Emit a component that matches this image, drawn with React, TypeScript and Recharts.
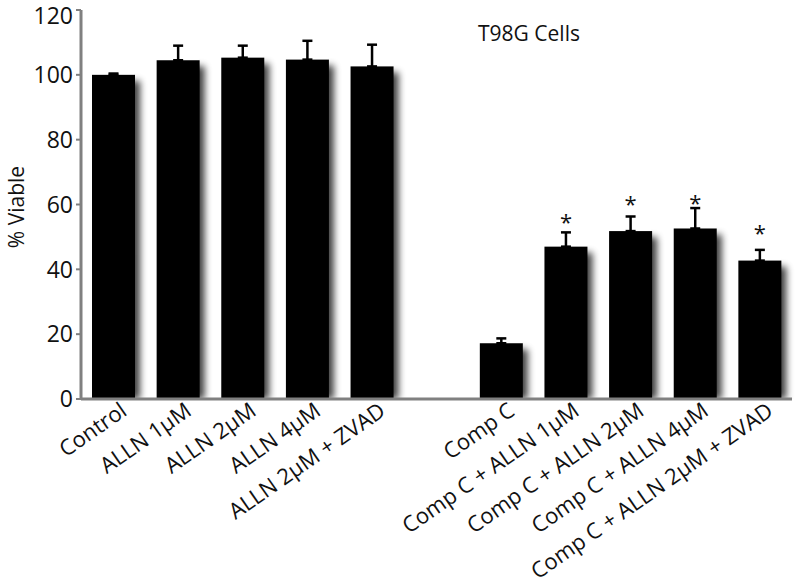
import { Bar, BarChart, ErrorBar, LabelList, XAxis, YAxis } from 'recharts';

const categories = [
  'Control',
  'ALLN 1µM',
  'ALLN 2µM',
  'ALLN 4µM',
  'ALLN 2µM + ZVAD',
  '',
  'Comp C',
  'Comp C + ALLN 1µM',
  'Comp C + ALLN 2µM',
  'Comp C + ALLN 4µM',
  'Comp C + ALLN 2µM + ZVAD',
];
const means = [100, 104.5, 105.3, 104.7, 102.6, null, 17.2, 47, 51.8, 52.6, 42.7];
const errors = [0.4, 4.5, 3.7, 5.8, 6.7, null, 1.5, 4.4, 4.5, 6.3, 3.3];
const significant = [false, false, false, false, false, false, false, true, true, true, true];
const yTicks = [0, 20, 40, 60, 80, 100, 120];

const FONT = '"Open Sans", "DejaVu Sans", sans-serif';
const AXIS_GREY = '#808080';

const rows = categories.map((name, i) => ({
  name,
  mean: means[i],
  err: errors[i] === null ? null : [0, errors[i]],
  star: significant[i] ? '*' : '',
}));

function ShadowBar(props: any) {
  const { x, y, width, height, index } = props;
  if (!height || height <= 0) return null;
  const fid = `shadow-blur-${index}`;
  const cid = `shadow-clip-${index}`;
  return (
    <g>
      <defs>
        <filter id={fid} x="-50%" y="-50%" width="200%" height="200%">
          <feGaussianBlur stdDeviation="3.5" />
        </filter>
        <clipPath id={cid}>
          <rect x={x + width - 1} y={y - 20} width={30} height={height + 20} />
        </clipPath>
      </defs>
      <rect
        x={x + 5}
        y={y + 6}
        width={width}
        height={height - 6}
        fill="#000"
        opacity={0.75}
        filter={`url(#${fid})`}
        clipPath={`url(#${cid})`}
      />
      <rect x={x} y={y} width={width} height={height} fill="#000" />
    </g>
  );
}

function StarLabel(props: any) {
  const { x, y, width, height, index, value } = props;
  if (!value) return null;
  const m = means[index] ?? 0;
  const e = errors[index] ?? 0;
  const pxPerUnit = m > 0 ? height / m : 0;
  const capY = y - e * pxPerUnit;
  return (
    <text
      x={x + width / 2}
      y={capY - 3}
      textAnchor="middle"
      fontFamily={FONT}
      fontSize={22}
      fill="#111"
    >
      {value}
    </text>
  );
}

function ValueTick(props: any) {
  const { x, y, payload } = props;
  // the top label sits a little under its tick in the original
  const shift = payload.value === 120 ? 6 : 0;
  return (
    <text
      x={x}
      y={y + shift}
      dy="0.36em"
      textAnchor="end"
      fontFamily={FONT}
      fontSize={23}
      fill="#111"
    >
      {payload.value}
    </text>
  );
}

function CategoryTick(props: any) {
  const { x, y, payload } = props;
  if (!payload.value) return null;
  return (
    <g transform={`translate(${x + 15},${y + 13})`}>
      <text
        transform="rotate(-35)"
        textAnchor="end"
        fontFamily={FONT}
        fontSize={22}
        fill="#111"
      >
        {payload.value}
      </text>
    </g>
  );
}

export default function App() {
  return (
    <div style={{ position: 'absolute', left: 0, top: 0, width: 800, height: 586, background: '#fff' }}>
      <BarChart
        width={800}
        height={586}
        data={rows}
        margin={{ top: 10, right: 8, left: 21, bottom: 0 }}
        barSize={43}
      >
        <XAxis
          dataKey="name"
          interval={0}
          height={187}
          tickLine={false}
          tickSize={0}
          tick={<CategoryTick />}
          axisLine={{ stroke: AXIS_GREY, strokeWidth: 3 }}
        />
        <YAxis
          width={60}
          domain={[0, 120]}
          ticks={yTicks}
          interval={0}
          tickSize={5}
          tickMargin={3}
          tickLine={{ stroke: AXIS_GREY, strokeWidth: 2 }}
          axisLine={{ stroke: AXIS_GREY, strokeWidth: 3 }}
          tick={<ValueTick />}
        />
        <Bar dataKey="mean" shape={<ShadowBar />} isAnimationActive={false}>
          <ErrorBar
            dataKey="err"
            direction="y"
            width={5}
            stroke="#000"
            strokeWidth={2.5}
            isAnimationActive={false}
          />
          <LabelList dataKey="star" content={<StarLabel />} />
        </Bar>
      </BarChart>
      <svg
        width={800}
        height={586}
        style={{ position: 'absolute', left: 0, top: 0, pointerEvents: 'none' }}
      >
        <text x={478} y={41} fontFamily={FONT} fontSize={21} fill="#111">
          T98G Cells
        </text>
        <text
          transform="translate(24,207) rotate(-90)"
          textAnchor="middle"
          fontFamily={FONT}
          fontSize={21}
          fill="#111"
        >
          % Viable
        </text>
      </svg>
    </div>
  );
}
